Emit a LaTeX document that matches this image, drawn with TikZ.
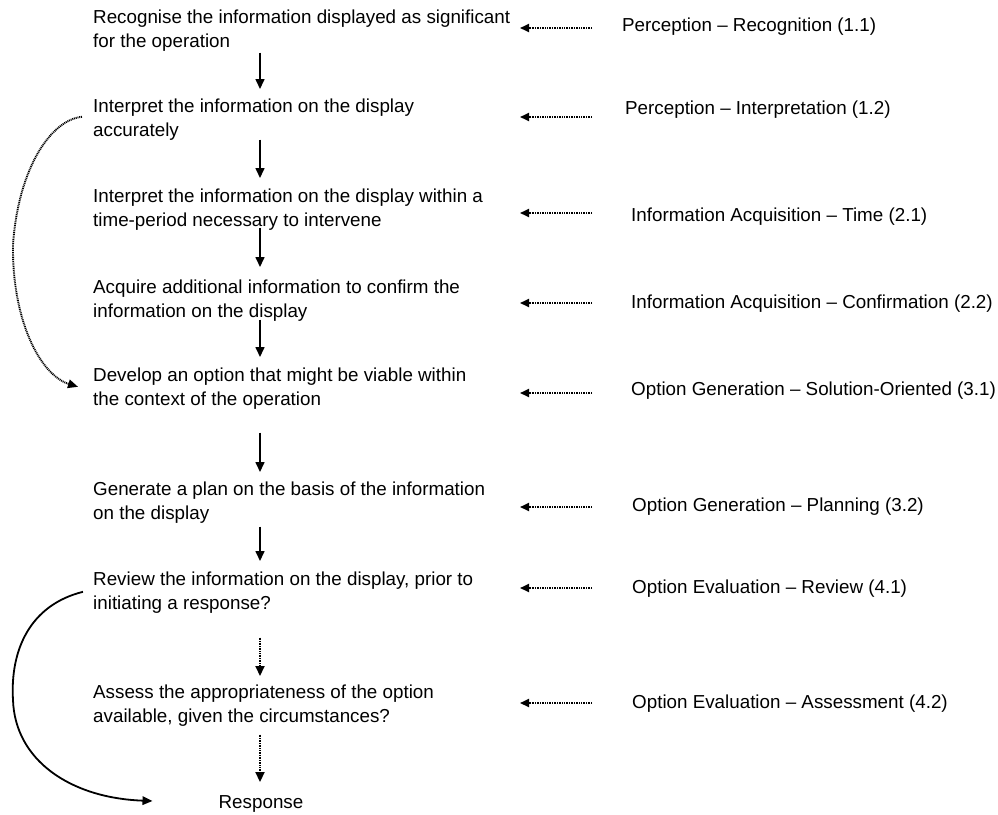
\documentclass[tikz,border=0pt]{standalone}
\usepackage{fontspec}
\setmainfont{Liberation Sans}
\usetikzlibrary{arrows.meta,calc}
\begin{document}
\begin{tikzpicture}[x=1pt,y=-1pt,
  txt/.style={font=\fontsize{18.8}{23.5}\selectfont, inner sep=0pt, align=left, anchor=north west,
              execute at begin node=\strut, execute at end node=\strut},
  lab/.style={font=\fontsize{18.8}{23.5}\selectfont, inner sep=0pt, anchor=west,
              execute at begin node=\strut},
  down/.style={line width=1.6pt, -{Triangle[length=10pt,width=9pt]}},
  downdot/.style={line width=1.8pt, dash pattern=on 1pt off 0.7pt, -{Triangle[length=10pt,width=9pt]}},
  larr/.style={line width=2pt, dash pattern=on 1pt off 0.7pt, -{Triangle[length=9pt,width=8pt]}},
  dotcurve/.style={line width=1.9pt, dash pattern=on 1pt off 0.8pt, -{Triangle[length=10pt,width=8.5pt]}},
  solcurve/.style={line width=1.8pt, -{Triangle[length=10pt,width=8.5pt]}},
]
\useasboundingbox (0,0) rectangle (998,814);

% left column
\node[txt] (t1) at (93,10)  {Recognise the information displayed as significant\\for the operation};
\node[txt] (t2) at (93,99)  {Interpret the information on the display\\accurately};
\node[txt] (t3) at (93,189) {Interpret the information on the display within a\\time-period necessary to intervene};
\node[txt] (t4) at (93,280) {Acquire additional information to confirm the\\information on the display};
\node[txt] (t5) at (93,368) {Develop an option that might be viable within\\the context of the operation};
\node[txt] (t6) at (93,482) {Generate a plan on the basis of the information\\on the display};
\node[txt] (t7) at (93,572) {Review the information on the display, prior to\\initiating a response?};
\node[txt] (t8) at (93,685) {Assess the appropriateness of the option\\available, given the circumstances?};
\node[lab, anchor=center] (resp) at (261,804) {Response};

% right column
\node[lab] (r1) at (622,26.8)  {Perception – Recognition (1.1)};
\node[lab] (r2) at (625,109.8) {Perception – Interpretation (1.2)};
\node[lab] (r3) at (631,216.8) {Information Acquisition – Time (2.1)};
\node[lab] (r4) at (631,303.8) {Information Acquisition – Confirmation (2.2)};
\node[lab] (r5) at (631,390.8) {Option Generation – Solution-Oriented (3.1)};
\node[lab] (r6) at (632,506.8) {Option Generation – Planning (3.2)};
\node[lab] (r7) at (632,588.8) {Option Evaluation – Review (4.1)};
\node[lab] (r8) at (632,703.8) {Option Evaluation – Assessment (4.2)};

% vertical arrows
\coordinate (ax) at (260,0);
\draw[down, shorten <=-2pt,  shorten >=10pt] (t1.south -| ax) -- (t2.north -| ax);
\draw[down, shorten <=-4pt,  shorten >=11pt] (t2.south -| ax) -- (t3.north -| ax);
\draw[down, shorten <=-6pt,  shorten >=13pt] (t3.south -| ax) -- (t4.north -| ax);
\draw[down, shorten <=-5pt,  shorten >=11pt] (t4.south -| ax) -- (t5.north -| ax);
\draw[down, shorten <=20pt,  shorten >=10pt] (t5.south -| ax) -- (t6.north -| ax);
\draw[down, shorten <=0pt,   shorten >=11pt] (t6.south -| ax) -- (t7.north -| ax);
\draw[downdot, shorten <=21pt, shorten >=9pt] (t7.south -| ax) -- (t8.north -| ax);
\draw[downdot, shorten <=5pt,  shorten >=10pt] (t8.south -| ax) -- (resp.north -| ax);

% left-pointing dotted arrows
\draw[larr] ([shift={(-30,1.2)}]r1.west) -- ++(-72,0);
\draw[larr] ([shift={(-33,7.2)}]r2.west) -- ++(-72,0);
\draw[larr] ([shift={(-39,-3.8)}]r3.west) -- ++(-72,0);
\draw[larr] ([shift={(-39,-0.8)}]r4.west) -- ++(-72,0);
\draw[larr] ([shift={(-39,2.2)}]r5.west) -- ++(-72,0);
\draw[larr] ([shift={(-40,0.2)}]r6.west) -- ++(-72,0);
\draw[larr] ([shift={(-40,-0.8)}]r7.west) -- ++(-72,0);
\draw[larr] ([shift={(-40,-0.8)}]r8.west) -- ++(-72,0);

% curved connectors
\draw[dotcurve] ([shift={(-11,-4.5)}]t2.west) .. controls (50,120) and (18,170) .. (13,245)
   .. controls (12,320) and (40,375) .. ([shift={(-15,-3.5)}]t5.west);
\draw[solcurve] ([shift={(-10,-2.5)}]t7.west) .. controls (30,605) and (10,650) .. (13,700)
   .. controls (15,760) and (70,798) .. ([shift={(-66,-3)}]resp.west);
\end{tikzpicture}
\end{document}
